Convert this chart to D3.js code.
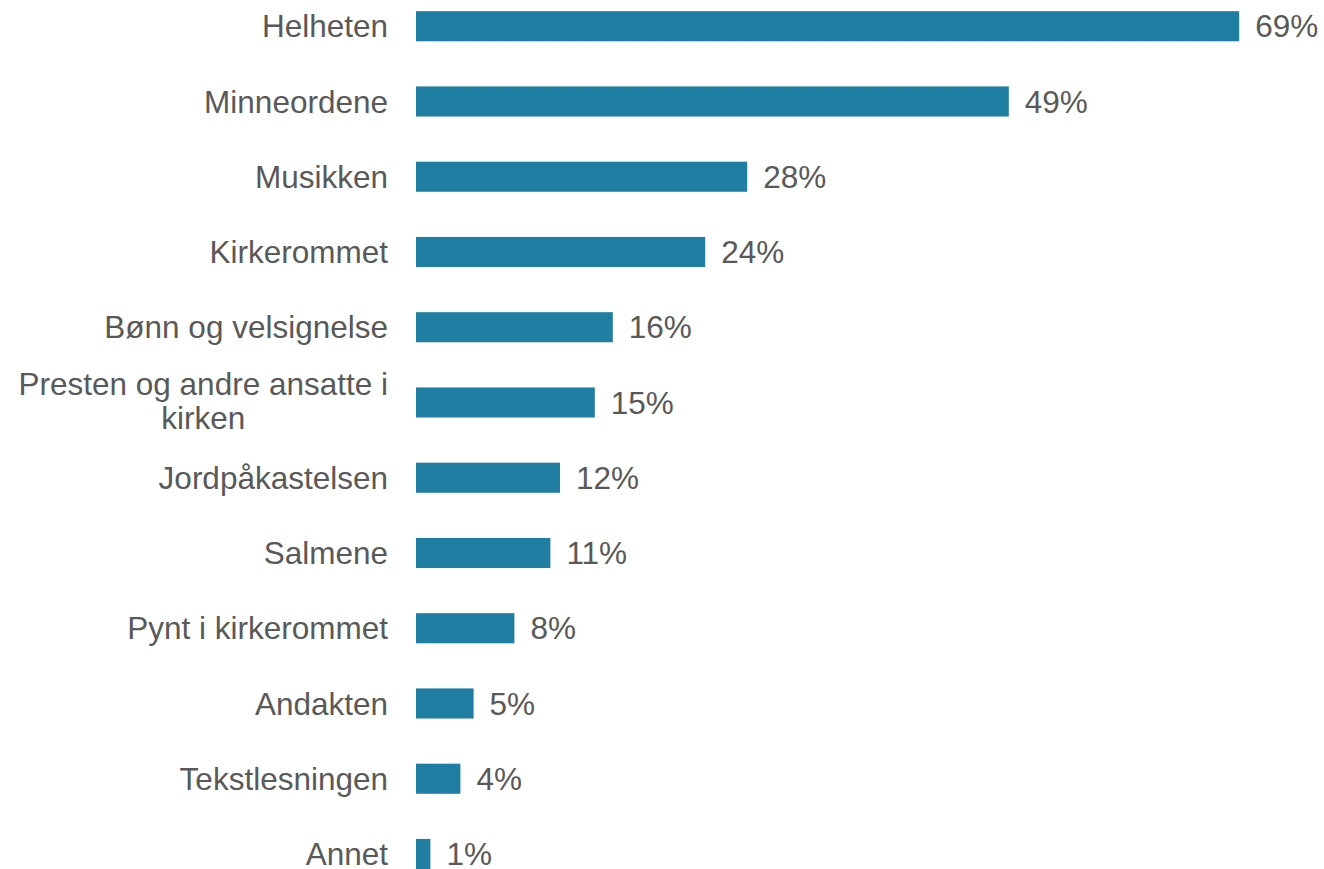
<!DOCTYPE html>
<html>
<head>
<meta charset="utf-8">
<script src="https://cdn.jsdelivr.net/npm/d3@7"></script>
<style>
  html, body { margin: 0; padding: 0; background: #fff; }
  svg { display: block; }
</style>
</head>
<body>
<script>
  const categories = [
    'Helheten',
    'Minneordene',
    'Musikken',
    'Kirkerommet',
    'Bønn og velsignelse',
    'Presten og andre ansatte i|kirken',
    'Jordpåkastelsen',
    'Salmene',
    'Pynt i kirkerommet',
    'Andakten',
    'Tekstlesningen',
    'Annet'
  ];
  const values = [68.6, 49.4, 27.6, 24.1, 16.4, 14.9, 12.0, 11.2, 8.2, 4.8, 3.7, 1.2];

  (() => {
    let svg;
    let x;
    let y;
    let rows;
    let fmt;
    const width = 1324;
    const height = 869;
    const textColor = '#595959';
    const barColor = '#1F7EA1';
    const fontSize = 31.5;

    svg = d3.select('body').append('svg')
      .attr('width', width)
      .attr('height', height)
      .style('font-family', '"Liberation Sans", Arial, sans-serif');

    x = d3.scaleLinear().domain([0, 70]).range([416, 1256]);
    y = d3.scaleBand()
      .domain(categories)
      .range([-11.4, 891.6])
      .paddingInner(0.6)
      .paddingOuter(0.3);

    fmt = v => Math.round(v) + '%';

    rows = svg.selectAll('g.row')
      .data(categories.map((c, i) => ({ cat: c, value: values[i] })))
      .enter()
      .append('g')
      .attr('class', 'row');

    rows.append('rect')
      .attr('x', x(0))
      .attr('y', d => y(d.cat))
      .attr('width', d => x(d.value) - x(0))
      .attr('height', y.bandwidth())
      .attr('fill', barColor);

    rows.append('text')
      .attr('x', d => x(d.value) + 16)
      .attr('y', d => y(d.cat) + y.bandwidth() / 2)
      .attr('dy', '0.35em')
      .attr('fill', textColor)
      .style('font-size', fontSize + 'px')
      .text(d => fmt(d.value));

    // category labels, wrapped ones are centred under their widest line
    rows.each(function(d) {
      let g;
      let lines;
      let label;
      let cy;
      let maxW;
      const right = 388;
      const lineH = 34;
      g = d3.select(this);
      lines = d.cat.split('|');
      cy = y(d.cat) + y.bandwidth() / 2 - (lines.length > 1 ? 2 : 0);
      label = g.append('text')
        .attr('fill', textColor)
        .style('font-size', fontSize + 'px');
      lines.forEach((l, i) => {
        label.append('tspan')
          .attr('y', cy + (i - (lines.length - 1) / 2) * lineH)
          .attr('dy', '0.35em')
          .text(l);
      });
      if (lines.length === 1) {
        label.attr('text-anchor', 'end');
        label.selectAll('tspan').attr('x', right);
      } else {
        maxW = 0;
        label.selectAll('tspan').each(function() {
          maxW = Math.max(maxW, this.getComputedTextLength());
        });
        label.attr('text-anchor', 'middle');
        label.selectAll('tspan').attr('x', right - maxW / 2);
      }
    });
  })();
</script>
</body>
</html>
